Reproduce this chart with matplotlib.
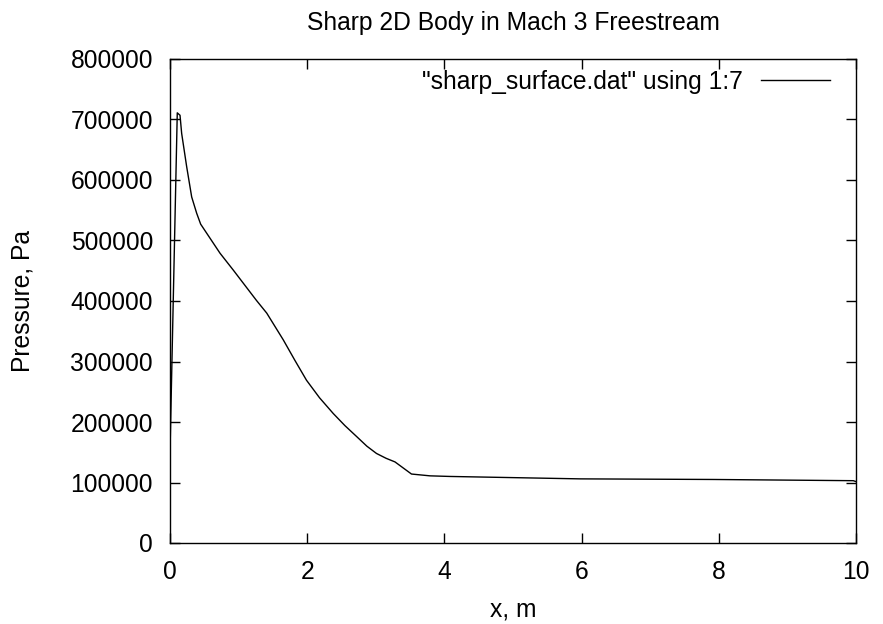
import matplotlib
matplotlib.use("Agg")
import matplotlib.pyplot as plt

# Data
x_m = [0.0, 0.106, 0.146, 0.17, 0.243, 0.316, 0.389, 0.447, 0.729, 0.923,
       1.26, 1.41, 1.65, 1.82, 1.99, 2.18, 2.38, 2.55, 2.72, 2.87, 3.01,
       3.15, 3.28, 3.52, 3.79, 4.08, 5.98, 7.92, 9.96, 10.0]
pressure_pa = [150000, 711000, 707000, 677000, 622000, 572000, 545000, 527000,
               479000, 451000, 401000, 380000, 336000, 302000, 269000, 240000,
               214000, 194000, 176000, 160000, 148000, 140000, 134000, 114000,
               111000, 110000, 106000, 105000, 103000, 101500]
x_ticks = [0, 2, 4, 6, 8, 10]
y_ticks = [0, 100000, 200000, 300000, 400000, 500000, 600000, 700000, 800000]

plt.rcParams['font.family'] = ['Liberation Sans', 'DejaVu Sans']
FS = 17.7

fig = plt.figure(figsize=(8.83, 6.24), dpi=100)
ax = fig.add_axes([170/883, 1 - 543/624, (856-170)/883, (543-59)/624])

ax.plot(x_m, pressure_pa, color='black', lw=1.0,
        label='"sharp_surface.dat" using 1:7')

ax.set_xlim(0, 10)
ax.set_ylim(0, 800000)
ax.set_xticks(x_ticks)
ax.set_yticks(y_ticks)
ax.set_xticklabels([str(t) for t in x_ticks])
ax.set_yticklabels([str(t) for t in y_ticks])
ax.tick_params(direction='in', length=7, width=1, top=True, right=True,
               labelsize=FS, colors='black')
ax.tick_params(axis='x', pad=12)
ax.tick_params(axis='y', pad=12.2)
for s in ax.spines.values():
    s.set_linewidth(1)
    s.set_color('black')

ax.set_xlabel('x, m', fontsize=FS, labelpad=10)
ax.set_ylabel('Pressure, Pa', fontsize=FS, labelpad=26)
ax.set_title('Sharp 2D Body in Mach 3 Freestream', fontsize=FS, pad=21)

ax.legend(loc='upper right', bbox_to_anchor=((830-170)/686, (543-70)/484),
          frameon=False, markerfirst=False, fontsize=FS, handlelength=2.8,
          handletextpad=0.75, borderpad=0, borderaxespad=0)

fig.savefig('out.png', dpi=100)
